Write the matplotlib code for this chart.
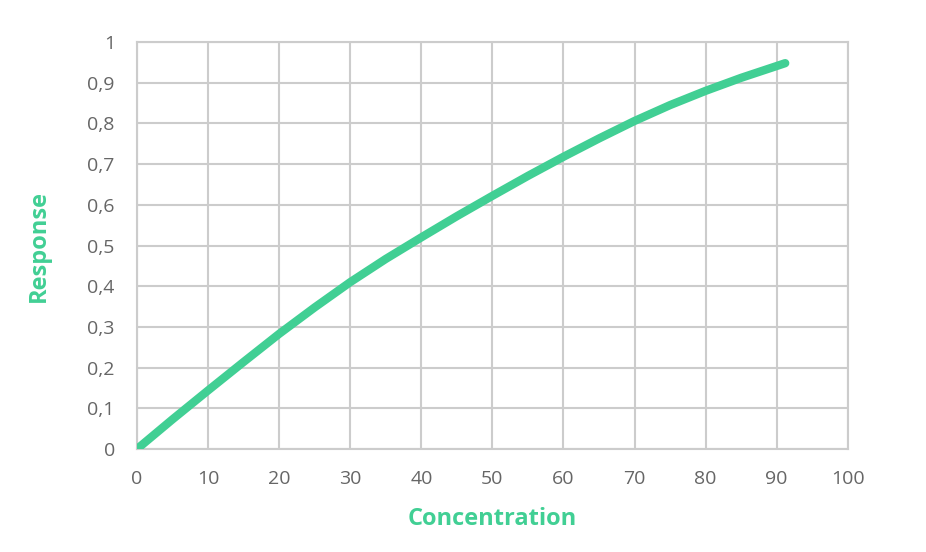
import matplotlib
matplotlib.use("Agg")
import matplotlib.pyplot as plt
from matplotlib.ticker import FuncFormatter

# values
concentration = [0, 5, 10, 15, 20, 25, 30, 35, 40, 45, 50, 55, 60, 65, 70, 75, 80, 85, 90, 91.2]
response = [0, 0.073, 0.144, 0.214, 0.283, 0.348, 0.410, 0.467, 0.520, 0.572, 0.622,
            0.671, 0.718, 0.763, 0.806, 0.845, 0.880, 0.912, 0.941, 0.948]
x_ticks = list(range(0, 101, 10))
y_ticks = [i / 10 for i in range(0, 11)]

green = "#41cf94"
grid_grey = "#cccccc"
text_grey = "#666666"

plt.rcParams["font.family"] = ["Open Sans", "DejaVu Sans"]

fig = plt.figure(figsize=(9.26, 5.52), dpi=100)
ax = fig.add_axes([0.148, 0.1866, 0.7675, 0.7373])

ax.plot(concentration, response, color=green, lw=6, solid_capstyle="round",
        solid_joinstyle="round", zorder=3)

ax.set_xlim(0, 100)
ax.set_ylim(0, 1)
ax.set_xticks(x_ticks)
ax.set_yticks(y_ticks)
ax.yaxis.set_major_formatter(FuncFormatter(lambda v, p: ("%g" % round(v, 1)).replace(".", ",")))

ax.grid(True, color=grid_grey, lw=1.5, zorder=0)
for s in ax.spines.values():
    s.set_color(grid_grey)
    s.set_linewidth(1.5)

ax.tick_params(axis="both", length=11, width=1.5, color=grid_grey,
               labelcolor=text_grey, labelsize=14)
ax.tick_params(axis="x", pad=4)
ax.tick_params(axis="y", pad=5)

# no tick marks on the outer values, as in the reference
for t in ax.xaxis.get_major_ticks():
    if t.get_loc() in (0, 100):
        t.tick1line.set_visible(False)
for t in ax.yaxis.get_major_ticks():
    if t.get_loc() in (0, 1):
        t.tick1line.set_visible(False)

ax.set_xlabel("Concentration", color=green, fontsize=17, fontweight="bold", labelpad=14)
ax.set_ylabel("Response", color=green, fontsize=17, fontweight="bold", labelpad=26)

fig.savefig("out.png", dpi=100)
